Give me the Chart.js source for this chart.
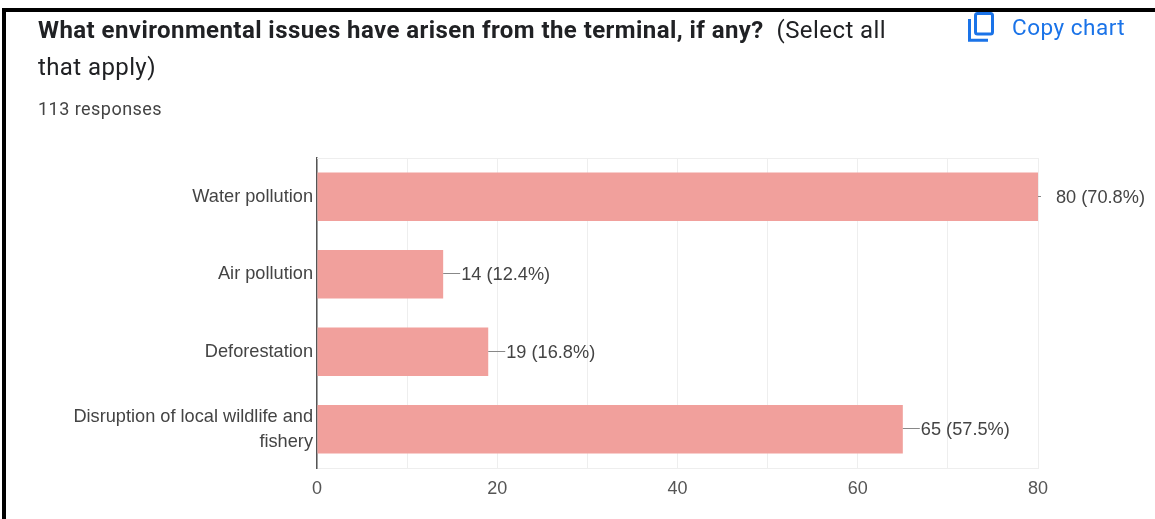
<!DOCTYPE html>
<html>
<head>
<meta charset="utf-8">
<script src="https://cdn.jsdelivr.net/npm/chart.js@4"></script>
<style>
html,body{margin:0;padding:0;background:#fff;overflow:hidden}
#page{position:relative;width:1155px;height:519px;background:#fff;overflow:hidden}
#frameTop{position:absolute;left:2px;top:8px;width:1153px;height:4px;background:#000}
#frameLeft{position:absolute;left:2px;top:8px;width:4px;height:511px;background:#000}
canvas{position:absolute;left:0;top:0}
.t{position:absolute;font-family:Roboto,sans-serif;white-space:nowrap;color:#202124}
#q1{left:38px;top:15px;font-size:24px;line-height:30px;letter-spacing:.43px}
#q1 b{font-weight:700}
#q2{left:38px;top:52px;font-size:24px;line-height:30px;letter-spacing:.4px}
#resp{left:38px;top:98px;font-size:18px;line-height:22px;color:#444;letter-spacing:.47px}
#copy{left:1012px;top:13px;font-size:22.5px;line-height:28px;color:#1a73e8;letter-spacing:.5px}
svg{position:absolute;left:966px;top:11px}
</style>
</head>
<body>
<div id="page">
<div id="frameTop"></div><div id="frameLeft"></div>
<canvas id="c" width="1155" height="519"></canvas>
<div class="t" id="q1"><b>What environmental issues have arisen from the terminal, if any?</b>&nbsp; (Select all</div>
<div class="t" id="q2">that apply)</div>
<div class="t" id="resp">113 responses</div>
<svg width="30" height="34" viewBox="0 0 30 34"><path d="M3.5 8V29.2H22" fill="none" stroke="#1a73e8" stroke-width="3"/><rect x="9.5" y="2.5" width="17" height="20.5" rx="2" fill="none" stroke="#1a73e8" stroke-width="3"/></svg>
<div class="t" id="copy">Copy chart</div>
</div>
<script>
const categories = ["Water pollution", "Air pollution", "Deforestation", ["Disruption of local wildlife and", "fishery"]];
const counts = [80, 14, 19, 65];
const percents = ["70.8%", "12.4%", "16.8%", "57.5%"];
const tickLabelValues = [0, 20, 40, 60, 80];

const leaderLabels = {
  id: "leaderLabels",
  afterDatasetsDraw(chart) {
    const { ctx, scales: { x, y } } = chart;
    ctx.save();
    ctx.font = "18.2px 'Liberation Sans'";
    ctx.textBaseline = "middle";
    counts.forEach((v, i) => {
      const px = x.getPixelForValue(v);
      const py = y.getPixelForValue(i);
      const full = v === x.max;
      ctx.strokeStyle = "#888";
      ctx.lineWidth = 1;
      ctx.beginPath();
      ctx.moveTo(px, Math.round(py) - 0.5);
      ctx.lineTo(px + (full ? 3 : 17), Math.round(py) - 0.5);
      ctx.stroke();
      ctx.fillStyle = "#444";
      ctx.fillText(v + " (" + percents[i] + ")", px + 18, py + 1);
    });
    ctx.restore();
  },
  beforeDatasetsDraw(chart) {
    const { ctx, chartArea: a } = chart;
    ctx.save();
    ctx.strokeStyle = "#eeeeee";
    ctx.lineWidth = 1;
    ctx.beginPath();
    ctx.moveTo(a.left, a.top + 0.5);
    ctx.lineTo(a.right, a.top + 0.5);
    ctx.stroke();
    ctx.restore();
  }
};

new Chart(document.getElementById("c"), {
  type: "bar",
  data: {
    labels: categories,
    datasets: [{
      data: counts,
      backgroundColor: "#f1a09c",
      borderWidth: 0,
      barPercentage: 0.625,
      categoryPercentage: 1
    }]
  },
  options: {
    indexAxis: "y",
    responsive: false,
    animation: false,
    layout: { padding: { top: 158, right: 117, bottom: 0, left: 0 } },
    plugins: { legend: { display: false }, tooltip: { enabled: false } },
    scales: {
      x: {
        min: 0, max: 80,
        afterFit(s) { s.height = 51; },
        afterBuildTicks(s) { s.ticks = [0,10,20,30,40,50,60,70,80].map(value => ({ value })); },
        grid: { color: "#eeeeee", lineWidth: 1, drawTicks: false },
        border: { color: "#eeeeee", display: true },
        ticks: {
          autoSkip: false,
          maxRotation: 0,
          padding: 10,
          color: "#555",
          font: { family: "'Liberation Sans'", size: 18 },
          callback: v => tickLabelValues.includes(v) ? String(v) : ""
        }
      },
      y: {
        afterFit(s) { s.width = 317; },
        grid: { display: false, drawTicks: false },
        border: { color: "#555", width: 1.5 },
        ticks: {
          padding: 4,
          color: "#444",
          font: { family: "'Liberation Sans'", size: 18.2, lineHeight: 1.4 }
        }
      }
    }
  },
  plugins: [leaderLabels]
});
</script>
</body>
</html>
